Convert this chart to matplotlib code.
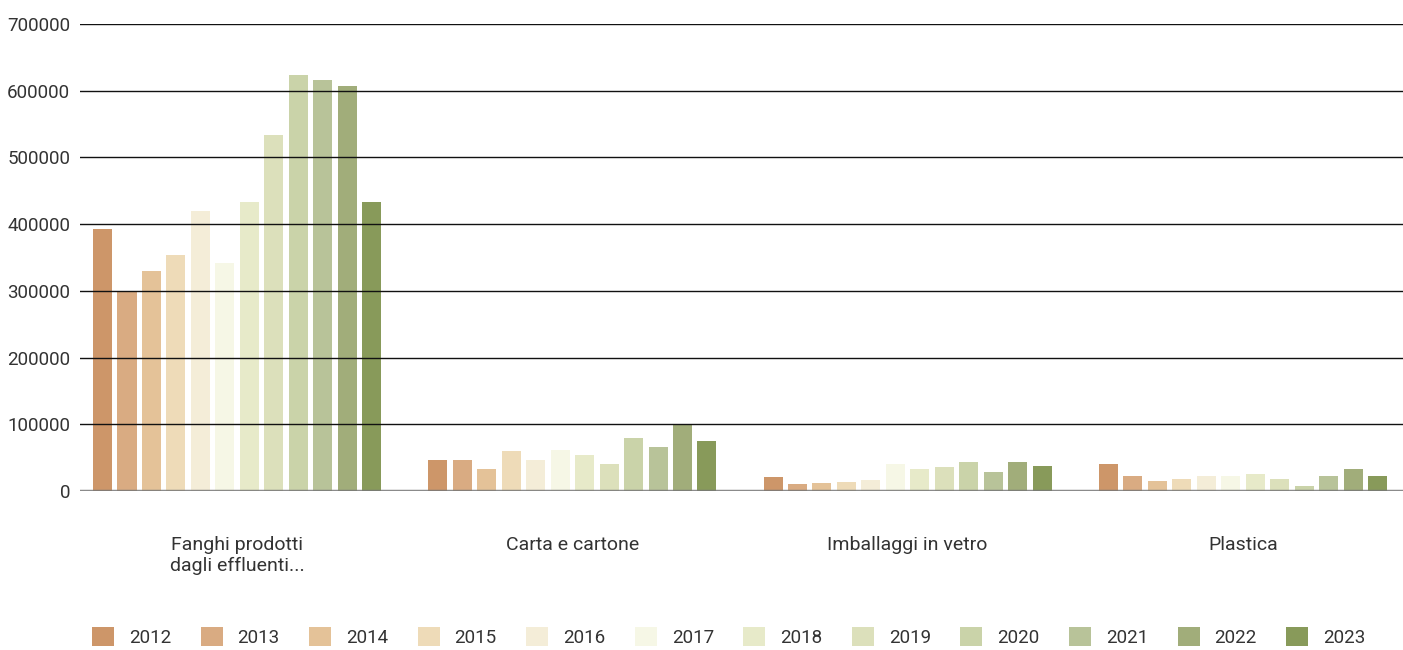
import matplotlib.pyplot as plt
import numpy as np

# data
categories = ['Fanghi prodotti\ndagli effluenti...', 'Carta e cartone',
              'Imballaggi in vetro', 'Plastica']
years = ['2012', '2013', '2014', '2015', '2016', '2017',
         '2018', '2019', '2020', '2021', '2022', '2023']
fanghi = [393000, 300000, 330000, 354000, 420000, 342000,
          433000, 534000, 624000, 616000, 607000, 433000]
carta = [46000, 46000, 33000, 60000, 46000, 61500,
         54000, 40500, 79500, 66000, 99000, 75000]
vetro = [20500, 10000, 11500, 13000, 16000, 40000,
         33000, 36000, 43000, 28000, 43000, 37000]
plastica = [40000, 22000, 15000, 18000, 22000, 22000,
            25000, 18000, 7500, 22000, 33000, 22000]
colors = ['#CD9669', '#D9AB82', '#E4C298', '#EEDBB8', '#F4EDD8', '#F6F7E6',
          '#E7EAC9', '#DCE0BB', '#CAD3A9', '#B8C399', '#A1AD7A', '#889A5A']

values = np.array([fanghi, carta, vetro, plastica])  # shape (cat, year)

plt.rcParams['font.family'] = ['Roboto', 'DejaVu Sans']
txt = '#333333'

fig = plt.figure(figsize=(14.03, 6.5), dpi=100)
ax = fig.add_axes([80/1403, 1-491/650, 1-80/1403, (491-24)/650])

x = np.arange(len(categories))
step = 0.073
width = 0.0567
n = len(years)
for i, yr in enumerate(years):
    ax.bar(x + (i - (n-1)/2) * step, values[:, i], width=width,
           color=colors[i], label=yr, zorder=2)

ax.set_ylim(0, 700000)
ax.set_xlim(-0.4687, 3.4776)
ax.set_yticks(np.arange(0, 700001, 100000))
ax.set_yticklabels([str(v) for v in range(0, 700001, 100000)])
for v in range(100000, 700001, 100000):
    ax.axhline(v, color='#111111', lw=1, zorder=3)
ax.axhline(0, color='#777777', lw=2.5, alpha=0.85, zorder=3)

for s in ax.spines.values():
    s.set_visible(False)
ax.tick_params(axis='y', length=0, pad=7, labelsize=13.5, labelcolor=txt)
ax.tick_params(axis='x', length=0, pad=0)
ax.set_xticks([])

for xi, c in zip(x, categories):
    ax.text(xi, -67000, c, ha='center', va='top', fontsize=14,
            color=txt, linespacing=1.25)

leg = fig.legend(loc='center left', bbox_to_anchor=(92/1403, 1-637/650),
                 ncol=12, frameon=False, fontsize=13.5, handlelength=1.17,
                 handleheight=1.17, handletextpad=0.8, columnspacing=1.57,
                 borderaxespad=0, borderpad=0)
for t in leg.get_texts():
    t.set_color(txt)

fig.savefig('out.png', dpi=100)
